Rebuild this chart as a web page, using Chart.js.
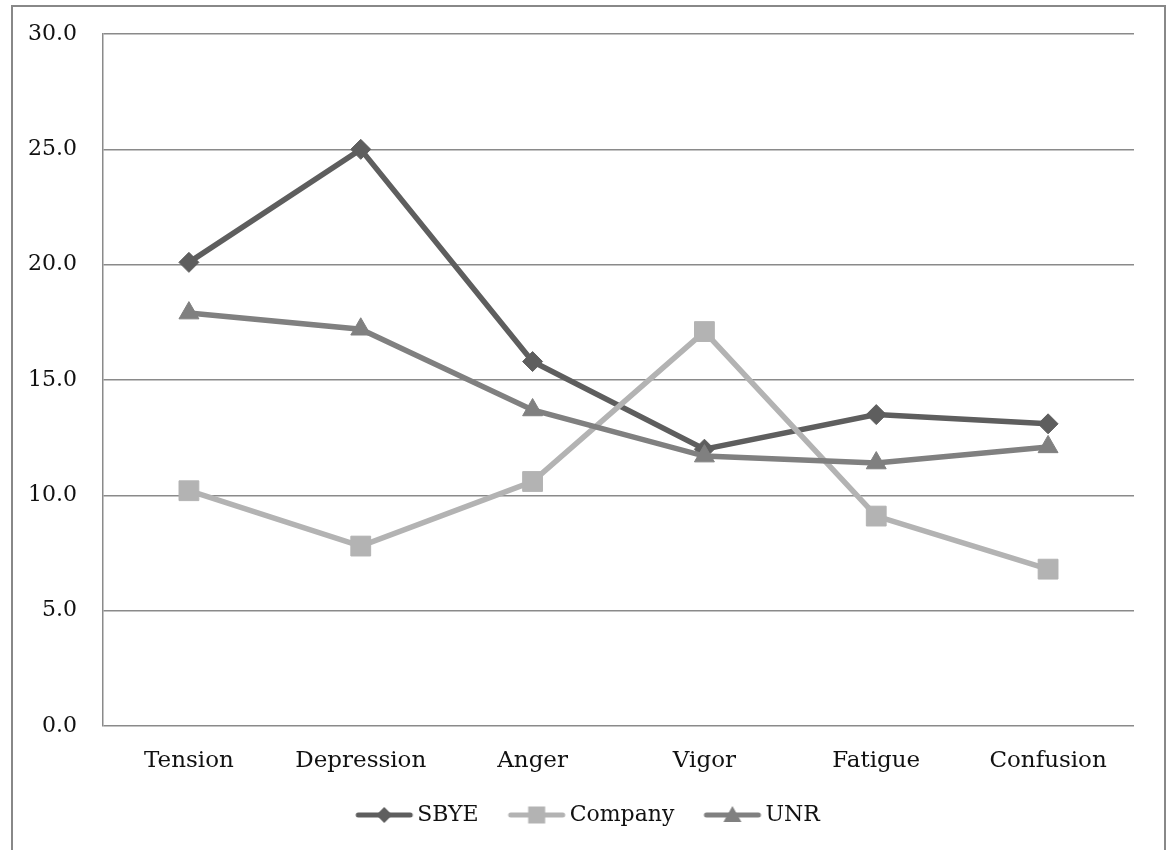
<!DOCTYPE html>
<html>
<head>
<meta charset="utf-8">
<script src="https://cdn.jsdelivr.net/npm/chart.js@4/dist/chart.umd.min.js"></script>
<style>
  html, body { margin: 0; padding: 0; background: #fff; }
  #wrap { position: relative; width: 1170px; height: 850px; overflow: hidden; background: #fff; }
  #frame { position: absolute; left: 11px; top: 5px; width: 1151px; height: 900px; border: 2px solid #888; pointer-events: none; }
  canvas { position: absolute; left: 0; top: 0; }
</style>
</head>
<body>
<div id="wrap">
  <canvas id="c" width="1170" height="850"></canvas>
  <div id="frame"></div>
</div>
<script>
const categories = ["Tension", "Depression", "Anger", "Vigor", "Fatigue", "Confusion"];
const sbye = [20.1, 25.0, 15.8, 12.0, 13.5, 13.1];
const company = [10.2, 7.8, 10.6, 17.1, 9.1, 6.8];
const unr = [17.9, 17.2, 13.7, 11.7, 11.4, 12.1];
const seriesNames = ["SBYE", "Company", "UNR"];
const yTicks = [0, 5, 10, 15, 20, 25, 30];

const FONT = "'DejaVu Serif', serif";
const colors = ["#5e5e5e", "#b3b3b3", "#808080"];
const styles = ["rectRot", "rect", "triangle"];
const radii = [10, 14, 11.5];

// legend swatch: line with marker; image is centred on the legend box (width 54)
function legendImage(color, style) {
  const cv = document.createElement('canvas');
  cv.width = 80; cv.height = 24;
  const ctx = cv.getContext('2d');
  const x0 = 17, x1 = 73, cx = 45, cy = 12;
  ctx.strokeStyle = color; ctx.lineWidth = 5; ctx.lineCap = 'round';
  ctx.beginPath(); ctx.moveTo(x0 + 2, cy); ctx.lineTo(x1 - 2, cy); ctx.stroke();
  ctx.fillStyle = color;
  ctx.beginPath();
  if (style === 'rectRot') {
    ctx.moveTo(cx, cy - 8); ctx.lineTo(cx + 8, cy); ctx.lineTo(cx, cy + 8); ctx.lineTo(cx - 8, cy); ctx.closePath();
  } else if (style === 'rect') {
    ctx.rect(cx - 8.5, cy - 8.5, 17, 17);
  } else {
    ctx.moveTo(cx, cy - 9); ctx.lineTo(cx + 9, cy + 7); ctx.lineTo(cx - 9, cy + 7); ctx.closePath();
  }
  ctx.fill();
  return cv;
}
const legendImgs = colors.map((c, i) => legendImage(c, styles[i]));

const dataSeries = [sbye, company, unr];
const datasets = dataSeries.map((d, i) => ({
  label: seriesNames[i],
  data: d,
  borderColor: colors[i],
  backgroundColor: colors[i],
  borderWidth: 5.5,
  pointStyle: styles[i],
  pointRadius: radii[i],
  pointHoverRadius: radii[i],
  pointBackgroundColor: colors[i],
  pointBorderColor: colors[i],
  pointBorderWidth: 1,
  tension: 0,
  order: 2 - i
}));

const legendShift = {
  id: 'legendShift',
  afterLayout(chart) {
    const lg = chart.legend;
    if (lg) { lg.left += 19; lg.right += 19; }
  }
};

new Chart(document.getElementById('c'), {
  type: 'line',
  data: { labels: categories, datasets },
  plugins: [legendShift],
  options: {
    responsive: false,
    animation: false,
    events: [],
    layout: { padding: { top: 34, right: 36, bottom: 14, left: 0 } },
    plugins: {
      tooltip: { enabled: false },
      legend: {
        position: 'bottom',
        labels: {
          font: { family: FONT, size: 22 },
          color: '#111',
          usePointStyle: true,
          pointStyleWidth: 54,
          boxHeight: 22,
          padding: 26,
          generateLabels: () => seriesNames.map((n, i) => ({
            text: n,
            pointStyle: legendImgs[i],
            fillStyle: colors[i],
            strokeStyle: colors[i],
            lineWidth: 0,
            hidden: false,
            datasetIndex: i,
            fontColor: '#111'
          }))
        }
      }
    },
    scales: {
      x: {
        type: 'category',
        offset: true,
        grid: { display: false, drawTicks: false },
        border: { display: false },
        ticks: { font: { family: FONT, size: 23 }, color: '#111', padding: 21, maxRotation: 0 },
        afterFit: s => { s.height = 52; s.paddingLeft = 0; s.paddingRight = 0; }
      },
      y: {
        min: 0, max: 30,
        afterBuildTicks: s => { s.ticks = yTicks.map(v => ({ value: v })); },
        grid: { color: '#8a8a8a', lineWidth: 1.5, drawTicks: false },
        border: { display: true, color: '#8a8a8a', width: 1.5 },
        ticks: {
          font: { family: FONT, size: 22 }, color: '#111', padding: 26,
          callback: v => Number(v).toFixed(1)
        },
        afterFit: s => { s.width = 103; s.paddingTop = 0; s.paddingBottom = 0; }
      }
    }
  }
});
</script>
</body>
</html>
